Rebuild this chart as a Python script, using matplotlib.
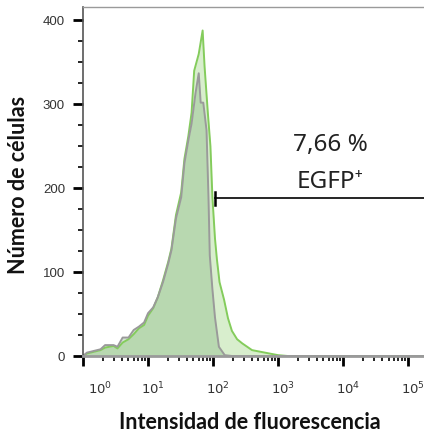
import numpy as np
import matplotlib
matplotlib.use("Agg")
from matplotlib import pyplot as plt
from matplotlib import transforms
from matplotlib.ticker import FixedLocator, LogLocator, NullFormatter

# posiciones (log10 de la intensidad) y numero de celulas
log_gris = [0.0, 0.06, 0.27, 0.34, 0.47, 0.53, 0.61, 0.70, 0.78, 0.86, 0.94, 1.00,
            1.08, 1.15, 1.23, 1.31, 1.36, 1.43, 1.51, 1.56, 1.62, 1.67, 1.73, 1.78,
            1.81, 1.85, 1.90, 1.93, 1.95, 1.99, 2.03, 2.09, 2.18, 2.29, 5.31]
cel_gris = [0, 4, 8, 13, 13, 11, 22, 22, 31, 35, 40, 51,
            58, 70, 88, 110, 126, 164, 189, 230, 257, 277, 313, 337,
            302, 302, 269, 189, 120, 80, 46, 11, 1, 0, 0]

log_verde = [0.0, 0.06, 0.27, 0.34, 0.47, 0.53, 0.61, 0.70, 0.78, 0.86, 0.94, 1.00,
             1.08, 1.15, 1.23, 1.31, 1.36, 1.43, 1.51, 1.56, 1.62, 1.67, 1.71, 1.78,
             1.84, 1.87, 1.92, 1.96, 1.99, 2.03, 2.06, 2.10, 2.17, 2.23, 2.29, 2.37,
             2.45, 2.60, 2.80, 3.00, 3.15, 5.31]
cel_verde = [0, 3, 7, 10, 12, 9, 16, 20, 26, 33, 37, 48,
             57, 70, 90, 112, 128, 168, 195, 235, 262, 290, 340, 360,
             388, 345, 290, 250, 190, 140, 115, 88, 67, 45, 30, 20,
             15, 7, 4, 1, 0, 0]

gate_x = 10 ** 2.03
gate_y = 188
texto_pct = "7,66 %"
texto_gate = "EGFP⁺"

xg = 10 ** np.array(log_gris)
xv = 10 ** np.array(log_verde)

fig = plt.figure(figsize=(4.24, 4.36), dpi=100)
ax = fig.add_axes([83 / 424, 1 - 356 / 436, 1 - 83 / 424 + 0.01, (356 - 7) / 436])

ax.fill_between(xv, cel_verde, color="#d8eecd", lw=0)
ax.fill_between(xg, cel_gris, color="#6fa86f", alpha=0.3, lw=0)
ax.plot(xv, cel_verde, color="#84cc5c", lw=1.4)
ax.plot(xg, cel_gris, color="#9a9a9a", lw=1.4)

ax.set_xscale("log")
ax.set_xlim(1, 10 ** 5.31)
ax.set_ylim(0, 416)

# compuerta
ax.plot([gate_x, 10 ** 5.4], [gate_y, gate_y], color="black", lw=1.2, clip_on=False)
ax.plot([gate_x, gate_x], [gate_y - 8, gate_y + 8], color="black", lw=1.8)
ax.text(10 ** 3.8, 251, texto_pct, ha="center", va="center", fontsize=17.5,
        family=["Noto Sans", "DejaVu Sans"], color="#222222")
ax.text(10 ** 3.8, 208, texto_gate, ha="center", va="center", fontsize=17.5,
        family=["Noto Sans", "DejaVu Sans"], color="#222222")

# ejes
ax.spines["right"].set_visible(False)
ax.spines["top"].set_color("#9a9a9a")
ax.spines["top"].set_linewidth(1.0)
ax.spines["bottom"].set_color("#9a9a9a")
ax.spines["bottom"].set_linewidth(2.0)
ax.spines["left"].set_color("#555555")
ax.spines["left"].set_linewidth(1.2)

ax.set_yticks([0, 100, 200, 300, 400])
ax.yaxis.set_minor_locator(FixedLocator([25, 50, 75, 125, 150, 175, 225, 250, 275, 325, 350, 375]))
ax.tick_params(axis="y", which="major", length=7, width=2, color="black",
               labelsize=9.5, labelcolor="#333333", pad=6)
ax.tick_params(axis="y", which="minor", length=3.5, width=1.2, color="black")

ax.set_xticks([1, 10, 100, 1e3, 1e4, 1e5])
ax.set_xticklabels(["$10^{%d}$" % i for i in range(6)])
ax.xaxis.set_minor_locator(LogLocator(base=10, subs=np.arange(2, 10), numticks=20))
ax.xaxis.set_minor_formatter(NullFormatter())
ax.tick_params(axis="x", which="major", length=7, width=2, color="black",
               labelsize=9.5, labelcolor="#333333", pad=11)
ax.tick_params(axis="x", which="minor", length=3.5, width=1.2, color="black")

for lab in ax.get_yticklabels() + ax.get_xticklabels():
    lab.set_family("Liberation Sans")

# etiquetas x desplazadas a la derecha como en el original
for i, lab in enumerate(ax.get_xticklabels()):
    dx = 17 if i == 0 else 5
    lab.set_transform(lab.get_transform() + transforms.ScaledTranslation(dx / 100, 0, fig.dpi_scale_trans))

fig.text(250 / 424, 1 - 422 / 436, "Intensidad de fluorescencia", ha="center", va="center",
         fontsize=15.5, fontweight="bold", family="Lato", color="#111111")
fig.text(19 / 424, 1 - 185 / 436, "Número de células", ha="center", va="center",
         rotation=90, fontsize=15.5, fontweight="bold", family="Lato", color="#111111")

fig.savefig("out.png", dpi=100)
